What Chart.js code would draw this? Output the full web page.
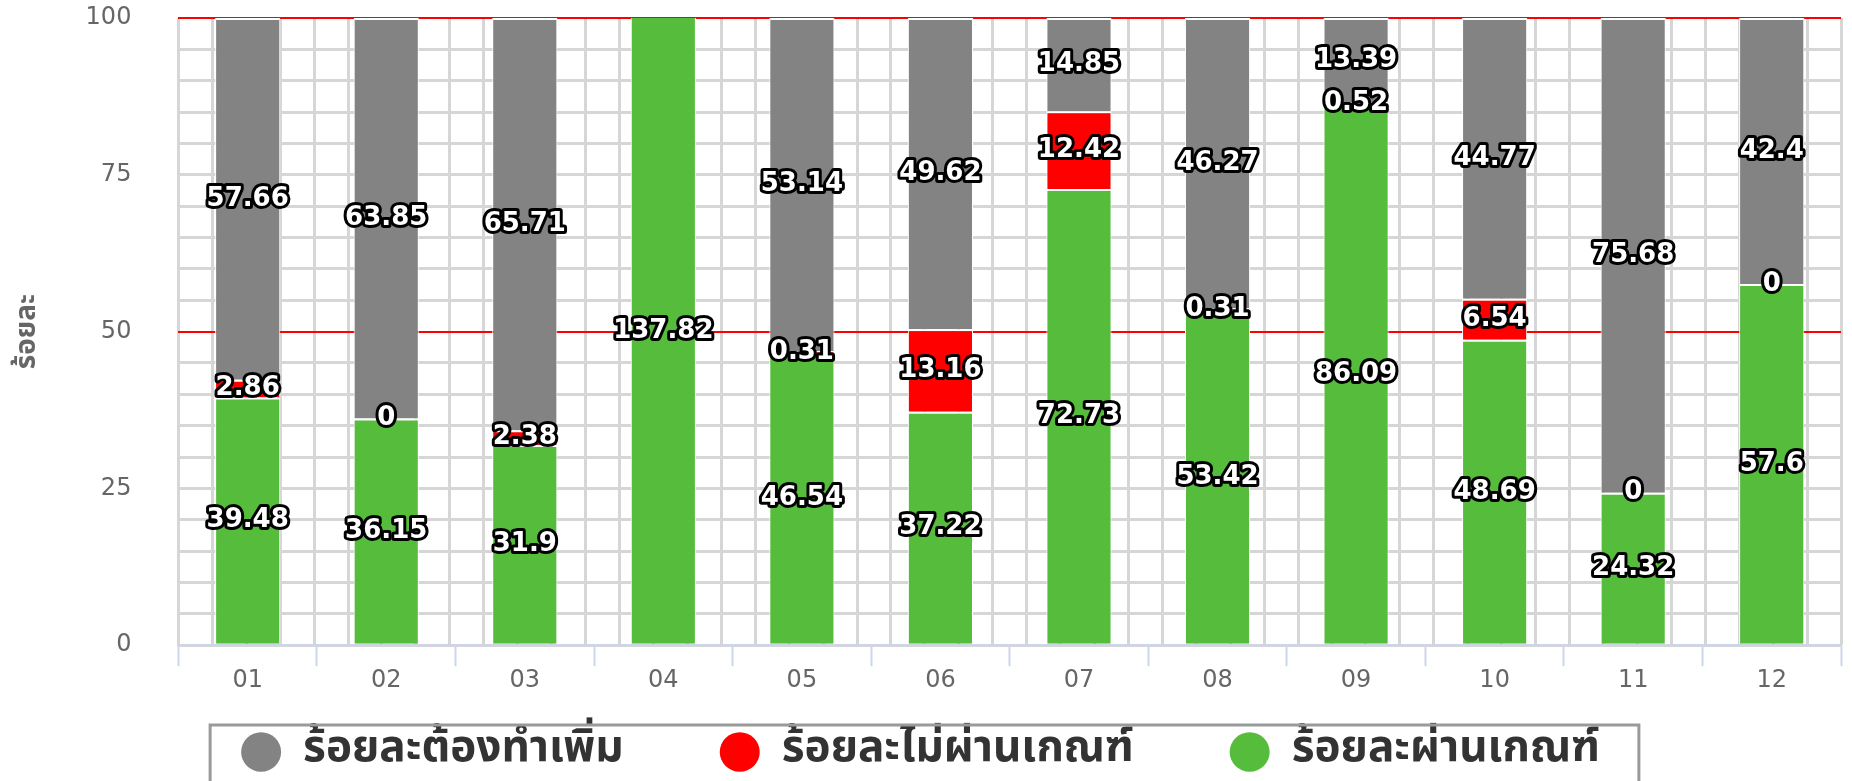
<!DOCTYPE html>
<html lang="th">
<head>
<meta charset="utf-8">
<title>ร้อยละ</title>
<script src="https://cdn.jsdelivr.net/npm/chart.js@4.4.1/dist/chart.umd.min.js"></script>
<style>
  html, body { margin: 0; padding: 0; background: #fff; overflow: hidden; }
  canvas { display: block; }
</style>
</head>
<body>
<canvas id="chart" width="1852" height="781"></canvas>
<script>
const months = ['01', '02', '03', '04', '05', '06', '07', '08', '09', '10', '11', '12'];

const passed = [39.48, 36.15, 31.9, 137.82, 46.54, 37.22, 72.73, 53.42, 86.09, 48.69, 24.32, 57.6];
const failed = [2.86, 0, 2.38, 0, 0.31, 13.16, 12.42, 0.31, 0.52, 6.54, 0, 0];
const needMore = [57.66, 63.85, 65.71, 0, 53.14, 49.62, 14.85, 46.27, 13.39, 44.77, 75.68, 42.4];

const seriesNames = ['ร้อยละผ่านเกณฑ์', 'ร้อยละไม่ผ่านเกณฑ์', 'ร้อยละต้องทำเพิ่ม'];
const seriesColors = ['#55bd3b', '#ff0000', '#838383'];

const thaiFont = "'Noto Sans Thai', 'Noto Sans', sans-serif";
const gridGrey = '#d6d6d6';
const axisBlue = '#ccd6eb';
const legendPad = 96;
const legendFontSize = 44;

Chart.defaults.font.family = "'DejaVu Sans', sans-serif";

// value labels: centred on the visible part of each segment, white text with black outline
const valueLabels = {
  id: 'valueLabels',
  afterDatasetsDraw(chart) {
    const { ctx, chartArea } = chart;
    ctx.save();
    ctx.font = "bold 26px 'DejaVu Sans'";
    ctx.textAlign = 'center';
    ctx.textBaseline = 'middle';
    ctx.lineJoin = 'round';
    ctx.lineWidth = 6;
    ctx.strokeStyle = '#000';
    ctx.fillStyle = '#fff';
    chart.data.datasets.forEach((ds, i) => {
      chart.getDatasetMeta(i).data.forEach((bar, j) => {
        const top = Math.max(Math.min(bar.y, bar.base), chartArea.top);
        const bottom = Math.min(Math.max(bar.y, bar.base), chartArea.bottom);
        if (top > bottom) return;
        const y = (top + bottom) / 2;
        const text = String(ds.data[j]);
        ctx.strokeText(text, bar.x, y);
        ctx.fillText(text, bar.x, y);
      });
    });
    ctx.restore();
  }
};

// legend sits lower than chart.js would put it, and has a frame round it
const legendFrame = {
  id: 'legendFrame',
  afterLayout(chart) {
    const lg = chart.legend;
    const itemsMiddle = lg.bottom - 29;
    lg.top = itemsMiddle - legendPad - legendFontSize / 2;
  },
  afterDraw(chart) {
    const boxes = chart.legend.legendHitBoxes;
    if (!boxes || !boxes.length) return;
    const first = boxes[0];
    const last = boxes[boxes.length - 1];
    const middle = first.top + legendFontSize / 2;
    const ctx = chart.ctx;
    ctx.save();
    ctx.strokeStyle = '#9a9a9a';
    ctx.lineWidth = 3;
    ctx.strokeRect(first.left - 31, middle - 27, last.left + last.width + 39 - (first.left - 31), chart.height);
    ctx.restore();
  }
};

function isRedLine(c) {
  return c.tick && (c.tick.value === 50 || c.tick.value === 100);
}

new Chart(document.getElementById('chart'), {
  type: 'bar',
  data: {
    labels: months,
    datasets: [passed, failed, needMore].map((values, i) => ({
      label: seriesNames[i],
      data: values,
      backgroundColor: seriesColors[i],
      borderColor: '#ffffff',
      borderWidth: { top: 2, left: 1, right: 1, bottom: 0 },
      barPercentage: 0.47,
      categoryPercentage: 1,
      clip: 0
    }))
  },
  options: {
    responsive: false,
    devicePixelRatio: 1,
    animation: false,
    events: [],
    layout: { padding: { top: 18, right: 11, left: 0, bottom: 0 } },
    plugins: {
      tooltip: { enabled: false },
      legend: {
        position: 'bottom',
        reverse: true,
        maxHeight: 86,
        labels: {
          usePointStyle: true,
          pointStyle: 'circle',
          pointStyleWidth: 40,
          boxHeight: 28,
          padding: legendPad,
          color: '#333',
          font: { family: thaiFont, size: legendFontSize, weight: 'bold' },
          generateLabels: (chart) =>
            Chart.defaults.plugins.legend.labels.generateLabels(chart).map(l => ({ ...l, lineWidth: 0 }))
        }
      }
    },
    scales: {
      x: {
        stacked: true,
        grid: {
          drawOnChartArea: false,
          drawTicks: true,
          tickLength: 21,
          tickWidth: 2,
          color: axisBlue
        },
        border: { color: axisBlue, width: 2 },
        ticks: { padding: 0, color: '#666', autoSkip: false, maxRotation: 0, font: { size: 24 } }
      },
      // quarter-category grid lines only
      xg: {
        type: 'linear',
        position: 'bottom',
        min: 0,
        max: 12,
        ticks: { stepSize: 0.25, display: false },
        grid: { color: gridGrey, lineWidth: 3, drawTicks: false },
        border: { display: false }
      },
      y: {
        stacked: true,
        min: 0,
        max: 100,
        ticks: {
          stepSize: 5,
          autoSkip: false,
          padding: 0,
          color: '#666',
          font: { size: 24 },
          callback: (v) => (v % 25 === 0 ? v : '')
        },
        grid: {
          drawTicks: true,
          tickLength: 47,
          tickColor: 'rgba(0,0,0,0)',
          color: (c) => (isRedLine(c) ? '#ff0000' : gridGrey),
          lineWidth: (c) => (isRedLine(c) ? 2 : 3)
        },
        border: { display: false },
        title: {
          display: true,
          text: 'ร้อยละ',
          color: '#666',
          font: { family: thaiFont, size: 28, weight: 'bold' },
          padding: { top: 13, bottom: 39 }
        }
      }
    }
  },
  plugins: [valueLabels, legendFrame]
});
</script>
</body>
</html>
